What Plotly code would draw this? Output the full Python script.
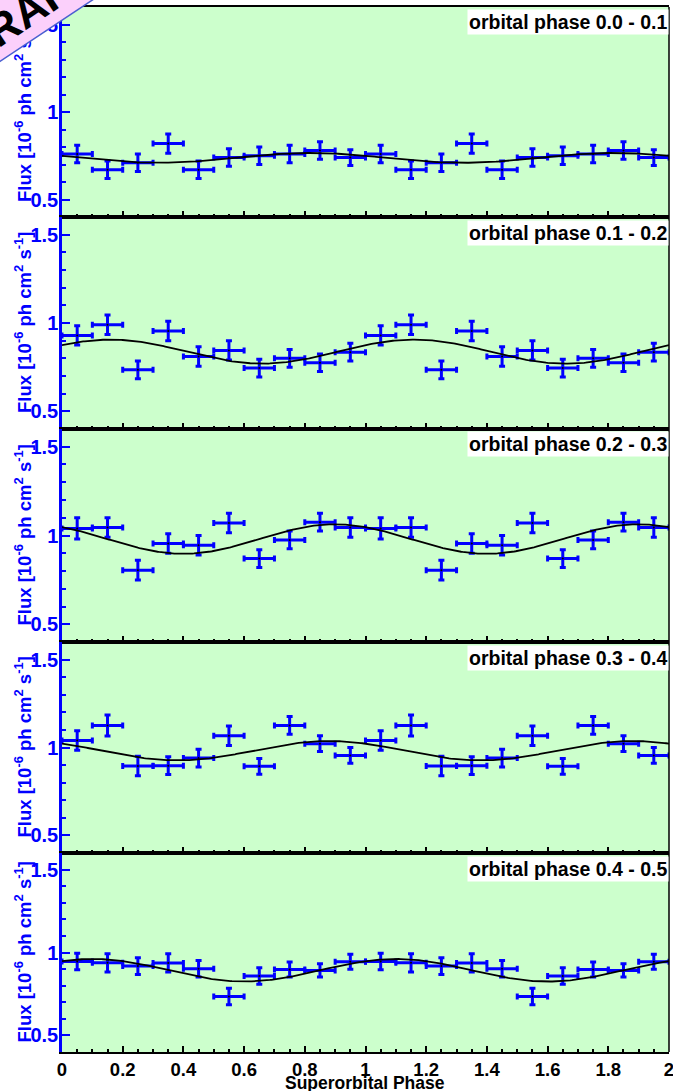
import numpy as np
import plotly.graph_objects as go

# Superorbital phase bins (two cycles shown)
phase = [0.05, 0.15, 0.25, 0.35, 0.45, 0.55, 0.65, 0.75, 0.85, 0.95,
         1.05, 1.15, 1.25, 1.35, 1.45, 1.55, 1.65, 1.75, 1.85, 1.95]
phase_halfwidth = 0.05

# Flux per orbital-phase interval, in 1e-6 ph cm^-2 s^-1
flux_00_01 = [0.76, 0.67, 0.71, 0.82, 0.67, 0.74, 0.75, 0.76, 0.78, 0.74,
              0.76, 0.67, 0.71, 0.82, 0.67, 0.74, 0.75, 0.76, 0.78, 0.74]
err_00_01 = [0.05, 0.05, 0.05, 0.055, 0.05, 0.05, 0.05, 0.05, 0.05, 0.045,
             0.05, 0.05, 0.05, 0.055, 0.05, 0.05, 0.05, 0.05, 0.05, 0.045]

flux_01_02 = [0.93, 0.99, 0.735, 0.955, 0.81, 0.845, 0.745, 0.80, 0.775, 0.835,
              0.93, 0.99, 0.735, 0.955, 0.81, 0.845, 0.745, 0.80, 0.775, 0.835]
err_01_02 = [0.055, 0.055, 0.05, 0.055, 0.055, 0.055, 0.05, 0.05, 0.05, 0.05,
             0.055, 0.055, 0.05, 0.055, 0.055, 0.055, 0.05, 0.05, 0.05, 0.05]

flux_02_03 = [1.04, 1.045, 0.805, 0.955, 0.945, 1.07, 0.87, 0.975, 1.075, 1.045,
              1.04, 1.045, 0.805, 0.955, 0.945, 1.07, 0.87, 0.975, 1.075, 1.045]
err_02_03 = [0.06, 0.055, 0.055, 0.055, 0.055, 0.055, 0.05, 0.05, 0.05, 0.055,
             0.06, 0.055, 0.055, 0.055, 0.055, 0.055, 0.05, 0.05, 0.05, 0.055]

flux_03_04 = [1.04, 1.125, 0.895, 0.897, 0.94, 1.067, 0.893, 1.126, 1.022, 0.955,
              1.04, 1.125, 0.895, 0.897, 0.94, 1.067, 0.893, 1.126, 1.022, 0.955]
err_03_04 = [0.055, 0.06, 0.055, 0.05, 0.05, 0.055, 0.045, 0.05, 0.045, 0.045,
             0.055, 0.06, 0.055, 0.05, 0.05, 0.055, 0.045, 0.05, 0.045, 0.045]

flux_04_05 = [0.946, 0.938, 0.918, 0.937, 0.902, 0.735, 0.858, 0.898, 0.892, 0.944,
              0.946, 0.938, 0.918, 0.937, 0.902, 0.735, 0.858, 0.898, 0.892, 0.944]
err_04_05 = [0.05, 0.055, 0.05, 0.055, 0.05, 0.05, 0.05, 0.045, 0.04, 0.045,
             0.05, 0.055, 0.05, 0.055, 0.05, 0.05, 0.05, 0.045, 0.04, 0.045]

# Sinusoidal fit parameters (mean, semi-amplitude, phase of maximum)
fit_mean = [0.738, 0.838, 0.980, 0.982, 0.893]
fit_amp = [0.028, 0.068, 0.083, 0.055, 0.068]
fit_peak = [0.82, 0.16, 0.90, 0.88, 0.10]

panel_labels = ["orbital phase 0.0 - 0.1", "orbital phase 0.1 - 0.2",
                "orbital phase 0.2 - 0.3", "orbital phase 0.3 - 0.4",
                "orbital phase 0.4 - 0.5"]

x_tick_vals = [0, 0.2, 0.4, 0.6, 0.8, 1.0, 1.2, 1.4, 1.6, 1.8, 2.0]
x_tick_text = ["0", "0.2", "0.4", "0.6", "0.8", "1", "1.2", "1.4", "1.6", "1.8", "2"]
y_tick_vals = [0.5, 1.0, 1.5]
y_tick_text = ["0.5", "1", "1.5"]

fluxes = [flux_00_01, flux_01_02, flux_02_03, flux_03_04, flux_04_05]
errors = [err_00_01, err_01_02, err_02_03, err_03_04, err_04_05]

# panel vertical domains, top panel first
domains = [[0.7990, 1.0], [0.5962, 0.7990], [0.3923, 0.5962],
           [0.1904, 0.3923], [0.0, 0.1904]]

BLUE = "#0000ff"
FONT = "Liberation Sans, Arial, Helvetica, sans-serif"

fig = go.Figure()
model_x = np.linspace(0, 2, 401)

for i in range(5):
    xa = "x" if i == 0 else f"x{i+1}"
    ya = "y" if i == 0 else f"y{i+1}"
    fig.add_trace(go.Scatter(
        x=phase, y=fluxes[i], xaxis=xa, yaxis=ya, mode="markers",
        marker=dict(size=2, color="black"),
        error_x=dict(type="constant", value=phase_halfwidth, color=BLUE,
                     thickness=3, width=3),
        error_y=dict(type="data", array=errors[i], color=BLUE,
                     thickness=3, width=3),
        showlegend=False, hoverinfo="skip"))
    model_y = fit_mean[i] + fit_amp[i] * np.cos(2 * np.pi * (model_x - fit_peak[i]))
    fig.add_trace(go.Scatter(
        x=model_x, y=model_y, xaxis=xa, yaxis=ya, mode="lines",
        line=dict(color="black", width=1.8),
        showlegend=False, hoverinfo="skip"))

layout = dict(
    width=673, height=1091,
    margin=dict(l=62, r=4, t=7, b=39, autoexpand=False),
    paper_bgcolor="white", plot_bgcolor="#ccffcc",
    font=dict(family=FONT),
)

for i in range(5):
    xkey = "xaxis" if i == 0 else f"xaxis{i+1}"
    ykey = "yaxis" if i == 0 else f"yaxis{i+1}"
    yname = "y" if i == 0 else f"y{i+1}"
    xname = "x" if i == 0 else f"x{i+1}"
    layout[xkey] = dict(
        domain=[0, 1], range=[0, 2], anchor=yname, automargin=False,
        showline=True, linecolor="black", linewidth=2, mirror=True,
        ticks="inside", ticklen=6, tickwidth=1.5, tickcolor="black",
        tickmode="array", tickvals=x_tick_vals, ticktext=x_tick_text,
        minor=dict(tickmode="linear", tick0=0, dtick=0.05, ticks="inside",
                   ticklen=3, tickwidth=1.5, tickcolor="black"),
        showgrid=False, zeroline=False,
        showticklabels=(i == 4), ticklabeloverflow="allow",
        tickfont=dict(size=18.5, color="black", family=FONT, weight="bold"),
    )
    if i > 0:
        layout[xkey]["matches"] = "x"
    layout[ykey] = dict(
        domain=domains[i], range=[0.4, 1.6], anchor=xname, automargin=False,
        showline=True, linecolor=BLUE, linewidth=2.5,
        ticks="inside", ticklen=8, tickwidth=2, tickcolor=BLUE,
        tickmode="array", tickvals=y_tick_vals, ticktext=y_tick_text,
        minor=dict(tickmode="linear", tick0=0, dtick=0.1, ticks="inside",
                   ticklen=4, tickwidth=2, tickcolor=BLUE),
        showgrid=False, zeroline=False, ticklabelstandoff=-3,
        tickfont=dict(size=20, color=BLUE, family=FONT, weight="bold"),
    )

fig.update_layout(**layout)

# right-hand frame line
fig.add_shape(type="line", xref="paper", yref="paper", x0=1, x1=1, y0=0, y1=1,
              line=dict(color="black", width=1.5))

annotations = []
y_title = "<b>Flux [10<sup>-6</sup> ph cm<sup>2</sup> s<sup>-1</sup>]</b>"
for i in range(5):
    lo, hi = domains[i]
    annotations.append(dict(
        text=y_title, xref="paper", yref="paper",
        x=(23 - 62) / 607, y=(lo + hi) / 2, xanchor="center", yanchor="middle",
        textangle=-90, showarrow=False,
        font=dict(size=18.5, color=BLUE, family=FONT)))
for i in range(5):
    lo, hi = domains[i]
    annotations.append(dict(
        text=f"<b>{panel_labels[i]}</b>", xref="paper", yref="paper",
        x=1.0, y=hi - 2.5 / 1045, xanchor="right", yanchor="top",
        showarrow=False, bgcolor="white", borderpad=1,
        font=dict(size=19.5, color="black", family=FONT)))
annotations.append(dict(
    text="<b>Superorbital Phase</b>", xref="paper", yref="paper",
    x=(365 - 62) / 607, y=1 - (1083 - 7) / 1045,
    xanchor="center", yanchor="middle", showarrow=False,
    font=dict(size=17.5, color="black", family=FONT)))
# corner banner
annotations.append(dict(
    text="<b>\u00a0DRAFT\u00a0</b>", xref="paper", yref="paper",
    x=(25 - 62) / 607, y=1 - (12 - 7) / 1045,
    xanchor="center", yanchor="middle", showarrow=False,
    textangle=-33.55, bgcolor="#fbd0fb", bordercolor="#4a5fd0",
    borderwidth=1.5, borderpad=2,
    font=dict(size=44, color="black", family=FONT)))
fig.update_layout(annotations=annotations)

fig.write_html("out.html")
